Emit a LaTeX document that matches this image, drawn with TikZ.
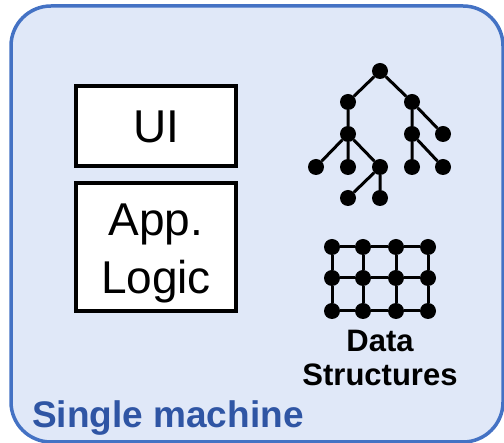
\documentclass[tikz,border=0pt]{standalone}
\usepackage{fontspec}
\setmainfont{Liberation Sans}
\definecolor{boxfill}{RGB}{224,232,248}
\definecolor{boxline}{RGB}{68,114,196}
\definecolor{labelblue}{RGB}{47,85,164}
\begin{document}
\begin{tikzpicture}[x=1pt,y=-1pt,
  part/.style={draw=black,line width=4pt,fill=white,inner sep=0pt},
  dot/.style={circle,fill=black,minimum size=16pt,inner sep=0pt},
  link/.style={line width=3pt,black}]
\useasboundingbox (0,0) rectangle (504,443);
\draw[boxline,line width=3.5pt,fill=boxfill,rounded corners=40pt] (11,6) rectangle (503,442);
% boxes
\node[part,minimum width=160pt,minimum height=80pt] (ui) at (156,126.5) {};
\node[font=\fontsize{46}{46}\selectfont] at (ui) {UI};
\node[part,minimum width=160pt,minimum height=128pt] (app) at (156,247) {};
\node[font=\fontsize{46}{58}\selectfont,align=center] at ([yshift=-6pt]app.center) {App.\\Logic};
% tree
\node[dot] (r) at (380,71) {};
\node[dot] (a) at (348,102) {};
\node[dot] (b) at (412,102) {};
\node[dot] (a2) at (348,134) {};
\node[dot] (b2) at (412,134) {};
\node[dot] (b3) at (443,134) {};
\node[dot] (c1) at (316,167) {};
\node[dot] (c2) at (348,167) {};
\node[dot] (c3) at (380,167) {};
\node[dot] (c4) at (412,167) {};
\node[dot] (c5) at (443,167) {};
\node[dot] (d1) at (348,198) {};
\node[dot] (d2) at (380,198) {};
\draw[link] (r) -- (a) (r) -- (b) (a) -- (a2) (b) -- (b2) (b) -- (b3)
  (a2) -- (c1) (a2) -- (c2) (a2) -- (c3) (b2) -- (c4) (b2) -- (c5)
  (c3) -- (d1) (c3) -- (d2);
% grid
\foreach \i/\x in {1/332,2/363,3/396,4/428}{
  \foreach \j/\y in {1/247,2/278,3/311}{
    \node[dot] (g\i\j) at (\x,\y) {};
  }
}
\foreach \j in {1,2,3}{
  \draw[link] (g1\j) -- (g2\j) -- (g3\j) -- (g4\j);
}
\foreach \i in {1,2,3,4}{
  \draw[link] (g\i1) -- (g\i2) -- (g\i3);
}
\node[font=\bfseries\fontsize{31}{34}\selectfont,align=center,anchor=north] (ds) at (380,327) {Data\\Structures};
\node[font=\bfseries\fontsize{37}{37}\selectfont,text=labelblue,anchor=base west,inner sep=0pt] (sm) at (32,428) {Single machine};
\end{tikzpicture}
\end{document}
